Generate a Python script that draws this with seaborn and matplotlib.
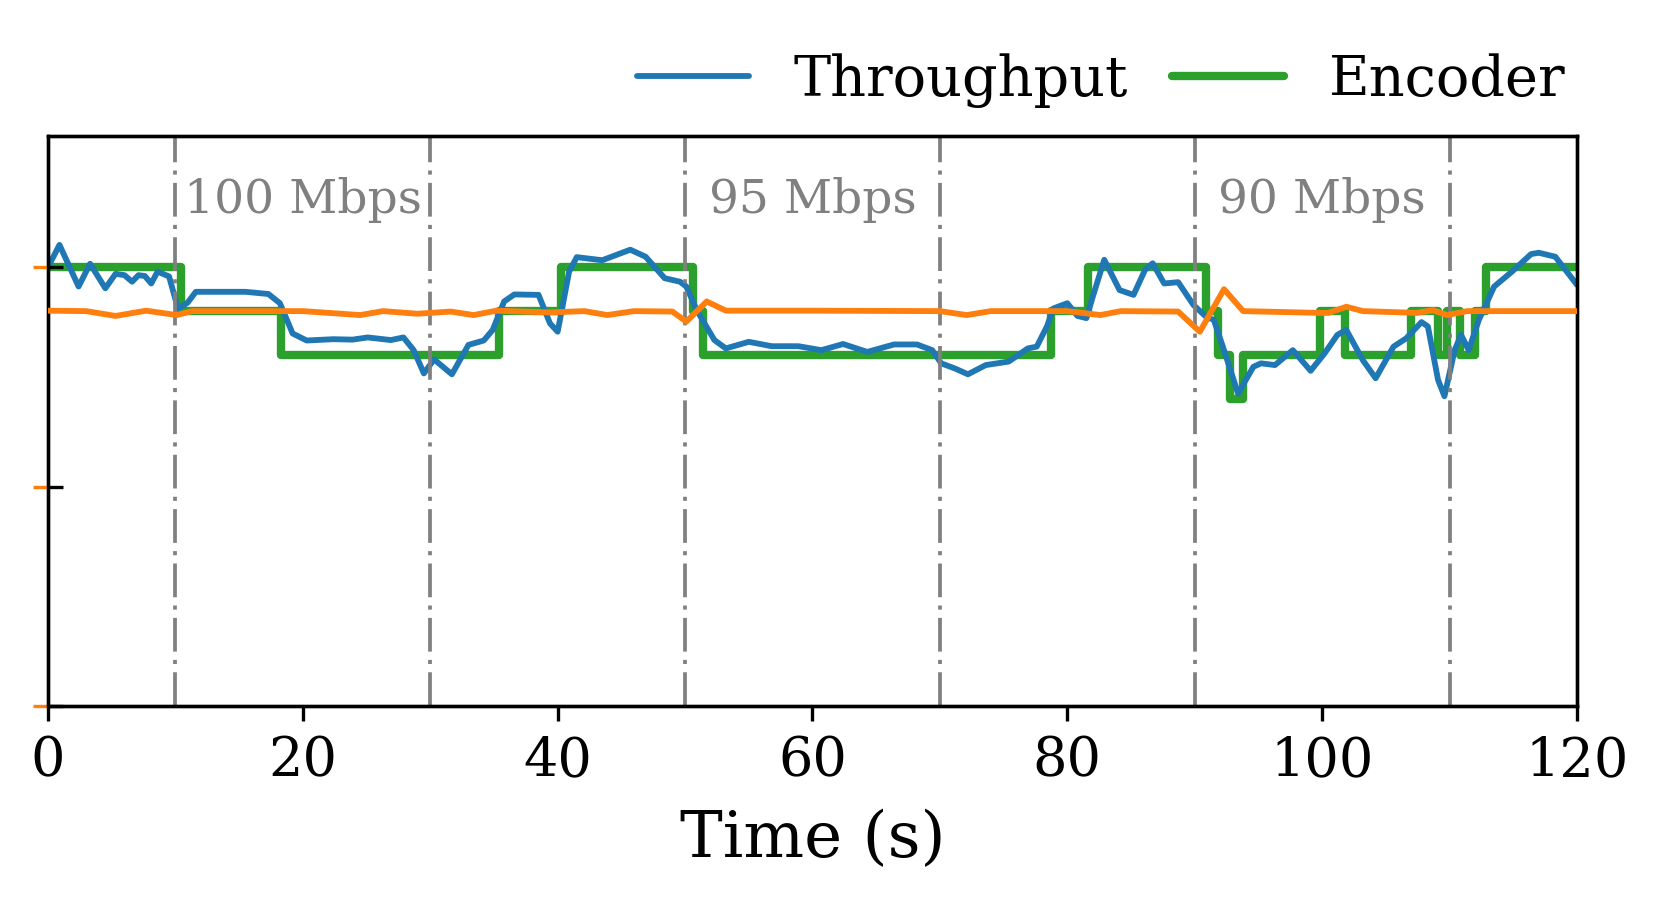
import matplotlib
matplotlib.use('Agg')
import matplotlib.pyplot as plt
import seaborn as sns
import pandas as pd

# Throughput (blue)
tput_time = [0, 0.9, 2.4, 3.3, 4.5, 5.3, 6.0, 6.6, 7.1, 7.6, 8.1, 8.6, 9.5, 10.2, 10.95, 11.6,
             15.5, 17.3, 18.2, 19.2, 20.3, 22.4, 23.9, 25.1, 26.9, 27.9, 28.7, 29.5, 30.3, 31.7,
             33.0, 34.2, 34.9, 35.8, 36.6, 38.5, 39.4, 40.0, 40.9, 41.5, 43.5, 45.7, 46.9, 48.4,
             49.6, 50.1, 50.9, 52.3, 53.2, 55.0, 56.8, 58.9, 60.7, 62.4, 64.3, 66.4, 68.2, 69.4,
             70.1, 71.2, 72.2, 73.6, 75.4, 76.9, 77.6, 78.4, 78.9, 80.0, 80.8, 81.5, 82.0, 82.9,
             84.1, 85.2, 86.1, 86.7, 87.6, 88.7, 89.9, 90.9, 91.5, 92.3, 93.4, 94.6, 95.2, 96.3,
             97.7, 99.1, 100.2, 101.2, 101.9, 103.2, 104.2, 105.6, 106.6, 107.8, 108.3, 109.1,
             109.6, 110.4, 110.9, 111.5, 112.3, 113.5, 114.9, 116.4, 117.0, 118.3, 120]
tput_mbps = [100, 105.1, 95.6, 100.8, 95.2, 98.5, 98.2, 96.7, 98.2, 98.0, 96.3, 99.0, 97.9, 90.6,
             91.9, 94.4, 94.4, 93.9, 91.8, 84.9, 83.3, 83.6, 83.5, 84.0, 83.4, 84.0, 81.1, 75.8,
             79.0, 75.6, 82.3, 83.3, 85.7, 92.2, 93.8, 93.7, 87.2, 85.3, 99.0, 102.3, 101.6, 104.0,
             102.4, 97.5, 96.7, 95.6, 90.3, 83.4, 81.5, 83.0, 82.0, 82.0, 81.1, 82.5, 80.7, 82.4,
             82.4, 81.1, 78.1, 76.9, 75.6, 77.7, 78.5, 81.5, 81.9, 86.5, 90.6, 91.8, 88.9, 88.4,
             93.3, 101.7, 94.8, 93.7, 99.4, 100.9, 96.3, 96.6, 91.4, 88.7, 88.0, 81.1, 71.2, 77.3,
             78.1, 77.7, 81.1, 76.4, 80.4, 84.6, 85.7, 78.8, 74.7, 81.9, 83.8, 87.5, 86.5, 74.3,
             70.6, 81.1, 84.6, 81.1, 88.0, 95.6, 99.0, 103.0, 103.3, 102.4, 96.0]

# Encoder bitrate (green, step)
enc_time = [0, 10.4, 18.3, 35.4, 40.3, 50.6, 51.4, 78.7, 81.6, 90.9, 91.8, 92.8, 93.8, 99.8,
            101.8, 107.0, 109.1, 109.8, 110.8, 112.0, 112.9, 120]
enc_mbps = [100, 90, 80, 90, 100, 90, 80, 90, 100, 90, 80, 70, 80, 90, 80, 90, 80, 90, 80, 90,
            100, 100]

# Orange series (secondary axis)
sec_time = [0, 3, 5.3, 7.7, 10.1, 11.3, 16, 20, 24.5, 26.3, 29, 31.6, 33.4, 35.2, 39.4, 42.1,
            43.9, 46, 49.0, 50.1, 51.7, 53.2, 60, 70, 72.1, 74, 80, 82.6, 84.2, 88.7, 90.4,
            92.3, 93.8, 99.7, 100.5, 101.9, 103.2, 107.4, 108.7, 109.8, 111.4, 120]
sec_vals = [90.1, 90.0, 88.9, 90.1, 89.1, 90.0, 90.0, 90.0, 89.1, 90.0, 89.4, 89.9, 89.1, 90.1,
            89.7, 90.0, 89.1, 90.0, 89.9, 87.6, 92.2, 90.1, 90.1, 90.0, 89.1, 90.0, 90.0, 89.1,
            90.0, 89.9, 85.3, 95.0, 90.0, 89.6, 89.6, 91.0, 90.0, 89.6, 90.2, 89.1, 90.0, 90.0]

phase_bounds = [10, 30, 50, 70, 90, 110]
phase_centers = [20, 60, 100]
phase_labels = ['100 Mbps', '95 Mbps', '90 Mbps']

tput = pd.DataFrame({'time': tput_time, 'mbps': tput_mbps})
enc = pd.DataFrame({'time': enc_time, 'mbps': enc_mbps})
sec = pd.DataFrame({'time': sec_time, 'val': sec_vals})

sns.set_style('ticks')
plt.rcParams['font.family'] = 'DejaVu Serif'
plt.rcParams['text.color'] = 'black'
plt.rcParams['axes.labelcolor'] = 'black'
plt.rcParams['xtick.color'] = 'black'
plt.rcParams['ytick.color'] = 'black'

fig = plt.figure(figsize=(1661 / 300, 3.0), dpi=300)
ax = fig.add_axes([0.0289, 0.2156, 0.9205, 0.6337])
ax.set_axisbelow(False)

for b in phase_bounds:
    ax.axvline(b, color='gray', linewidth=0.9, linestyle=(0, (9, 2.2, 1.1, 2.2)), zorder=2.4)

sns.lineplot(data=enc, x='time', y='mbps', ax=ax, color='#2ca02c', linewidth=2.0,
             drawstyle='steps-post', label='Encoder', zorder=2)
sns.lineplot(data=tput, x='time', y='mbps', ax=ax, color='#1f77b4', linewidth=1.4,
             label='Throughput', zorder=2.2)

ax.set_xlim(0, 120)
ax.set_ylim(0, 130)
ax.set_yticks([0, 50, 100])
ax.tick_params(axis='y', direction='in', labelleft=False, length=3.5, width=0.8, color='black')
ax.tick_params(axis='x', labelsize=13, length=3.5, width=0.8, color='black', labelcolor='black')
ax.set_xticks([0, 20, 40, 60, 80, 100, 120])
ax.set_xlabel('Time (s)', fontsize=15.4, color='black', labelpad=5.2)
ax.set_ylabel('')

for c, lab in zip(phase_centers, phase_labels):
    ax.text(c, 115.3, lab, ha='center', va='center', color='gray', fontsize=11.3)

ax2 = ax.twinx()
sns.lineplot(data=sec, x='time', y='val', ax=ax2, color='#ff7f0e', linewidth=1.4, zorder=4)
ax2.set_ylim(0, 130)
ax2.set_yticks([0, 50, 100])
ax2.yaxis.set_ticks_position('left')
ax2.tick_params(axis='y', direction='out', color='#ff7f0e', labelleft=False, labelright=False,
                length=3.5, width=0.8)
ax2.set_ylabel('')

for a in (ax, ax2):
    for s in a.spines.values():
        s.set_color('black')
        s.set_linewidth(0.8)

handles, labels = ax.get_legend_handles_labels()
order = [labels.index('Throughput'), labels.index('Encoder')]
ax.legend([handles[i] for i in order], [labels[i] for i in order],
          loc='center right', bbox_to_anchor=(1.007, 1.097), ncol=2, frameon=False,
          fontsize=13.4, columnspacing=0.8, handlelength=2.0, handletextpad=0.8,
          borderaxespad=0.0)

fig.savefig('out.png', dpi=300)
